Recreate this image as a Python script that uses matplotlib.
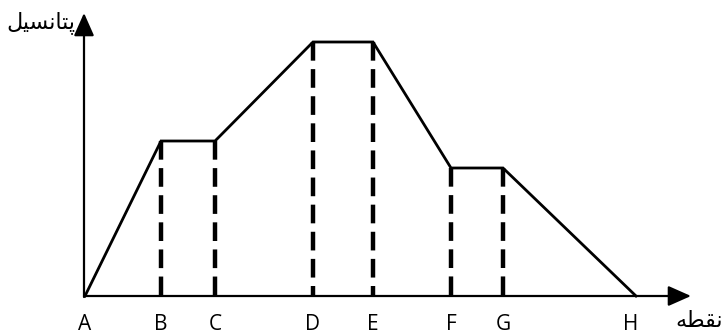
import matplotlib
matplotlib.use("Agg")
import matplotlib.pyplot as plt

# points along the path and their potential (pixel-like units from the picture)
point_labels = ["A", "B", "C", "D", "E", "F", "G", "H"]
point_x = [0, 76, 130, 228, 288, 366, 418, 551]
potential = [0, 155, 155, 254, 254, 128, 128, 0]
# plateau points get a dashed drop line
dropped = ["B", "C", "D", "E", "F", "G"]

y_title = "پتانسیل"
x_title = "نقطه"

# arabic presentation forms: isolated, final, initial, medial
FORMS = {
    "پ": ("\ufb56", "\ufb57", "\ufb58", "\ufb59"),
    "ت": ("\ufe95", "\ufe96", "\ufe97", "\ufe98"),
    "ا": ("\ufe8d", "\ufe8e", "\ufe8d", "\ufe8e"),
    "ن": ("\ufee5", "\ufee6", "\ufee7", "\ufee8"),
    "س": ("\ufeb1", "\ufeb2", "\ufeb3", "\ufeb4"),
    "ی": ("\ufbfc", "\ufbfd", "\ufbfe", "\ufbff"),
    "ل": ("\ufedd", "\ufede", "\ufedf", "\ufee0"),
    "ق": ("\ufed5", "\ufed6", "\ufed7", "\ufed8"),
    "ط": ("\ufec1", "\ufec2", "\ufec3", "\ufec4"),
    "ه": ("\ufee9", "\ufeea", "\ufeeb", "\ufeec"),
}
NO_LEFT_JOIN = set("اآدذرزژو")


def shape(word):
    """join the letters and put them in visual (left to right) order"""
    out = []
    for i, ch in enumerate(word):
        prev_joins = i > 0 and word[i - 1] not in NO_LEFT_JOIN
        next_joins = i < len(word) - 1 and ch not in NO_LEFT_JOIN
        if prev_joins and next_joins:
            k = 3
        elif next_joins:
            k = 2
        elif prev_joins:
            k = 1
        else:
            k = 0
        out.append(FORMS[ch][k])
    return "".join(reversed(out))


fig = plt.figure(figsize=(7.25, 3.34), dpi=100)
ax = fig.add_axes([0, 0, 1, 1])
ax.set_xlim(-85, 640)
ax.set_ylim(-38, 296)
ax.axis("off")

# axes with arrow heads
arrow = dict(arrowstyle="-|>,head_length=1.4,head_width=0.62",
             lw=1.6, color="black", shrinkA=0, shrinkB=0)
ax.annotate("", xy=(606, 0), xytext=(-1, 0), arrowprops=arrow)
ax.annotate("", xy=(-1, 283), xytext=(-1, -1), arrowprops=arrow)

ax.plot(point_x, potential, color="black", lw=2.0, solid_joinstyle="miter")

for lab, x, y in zip(point_labels, point_x, potential):
    if lab in dropped:
        ax.plot([x, x], [y, 0], color="black", lw=3.2, dashes=(4.2, 1.9))
    tx = x - 5 if lab == "H" else x
    ax.text(tx, -28, lab, ha="center", va="center", fontsize=15,
            family="Open Sans", color="black")

ax.text(-10, 273, shape(y_title), ha="right", va="center", fontsize=16,
        family="DejaVu Sans", color="black")
ax.text(638, -25, shape(x_title), ha="right", va="center", fontsize=16,
        family="DejaVu Sans", color="black")

fig.savefig("out.png", dpi=100)
